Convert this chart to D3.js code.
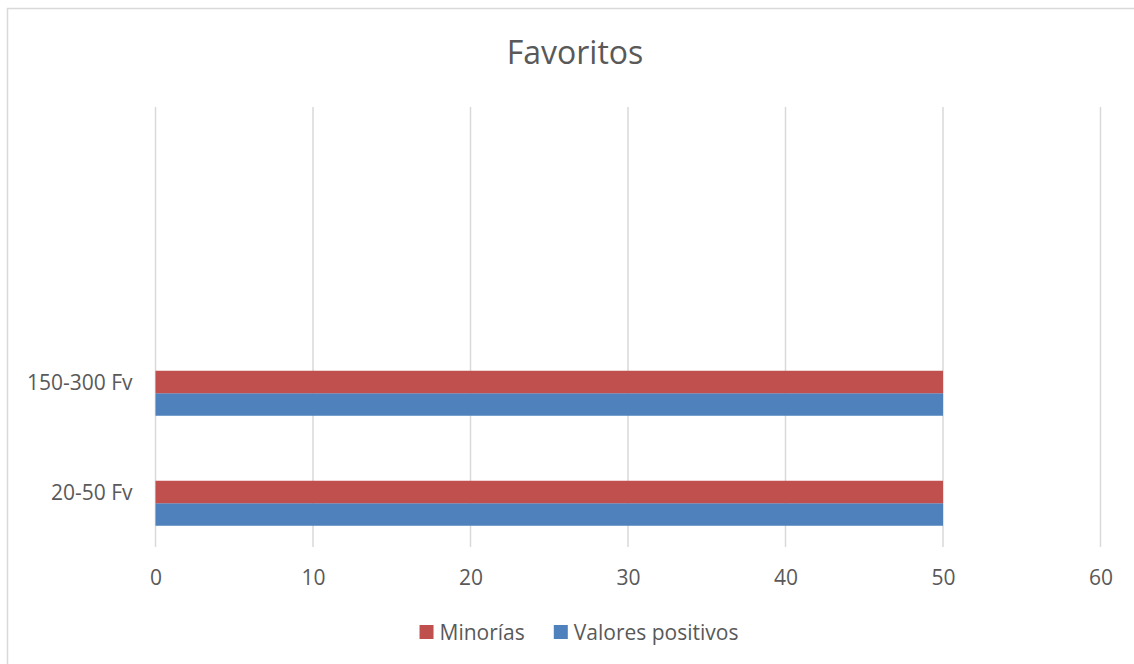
<!DOCTYPE html>
<html>
<head>
<meta charset="utf-8">
<script src="https://cdn.jsdelivr.net/npm/d3@7"></script>
<style>
  body { margin: 0; background: #fff; }
  svg text { font-family: "Open Sans", "Noto Sans", sans-serif; fill: #595959; }
</style>
</head>
<body>
<div id="chart"></div>
<script>
// ── DATA ─────────────────────────────────────────────────────────────────────
// Category axis has four slots; only the two lower ones carry data
const categories = ['20-50 Fv', '150-300 Fv', '', ''];
const seriesNames = ['Valores positivos', 'Minorías'];
const valoresPositivos = [50, 50];
const minorias = [50, 50];
const xTicks = [0, 10, 20, 30, 40, 50, 60];
const colors = { 'Minorías': '#C0504D', 'Valores positivos': '#4F81BD' };

// ── DIMENSIONS ───────────────────────────────────────────────────────────────
const W = 1134, H = 664;
const margin = { top: 107, right: 33.5, bottom: 117, left: 155.5 };
const width  = W - margin.left - margin.right;
const height = H - margin.top - margin.bottom;

const svg = d3.select('#chart').append('svg')
  .attr('width', W).attr('height', H);

// chart border
svg.append('rect')
  .attr('x', 7.5).attr('y', 8.5)
  .attr('width', W + 20).attr('height', H + 20)
  .attr('fill', '#fff').attr('stroke', '#d9d9d9').attr('stroke-width', 1.5);

svg.append('text')
  .attr('x', 575).attr('y', 64)
  .attr('text-anchor', 'middle')
  .style('font-size', '32px')
  .text('Favoritos');

const g = svg.append('g').attr('transform', `translate(${margin.left},${margin.top})`);

// ── SCALES ───────────────────────────────────────────────────────────────────
const x = d3.scaleLinear().domain([0, 60]).range([0, width]);
const y = d3.scaleBand().domain(d3.range(categories.length)).range([height, 0]);
// three series slots per category (third one empty), bottom-up
const ySub = d3.scaleBand()
  .domain([...seriesNames, 'empty'])
  .range([y.bandwidth(), 0])
  .paddingOuter(0.944);

// ── GRID ─────────────────────────────────────────────────────────────────────
g.selectAll('.grid')
  .data(xTicks)
  .join('line')
    .attr('x1', d => x(d)).attr('x2', d => x(d))
    .attr('y1', 0).attr('y2', height)
    .attr('stroke', '#d9d9d9').attr('stroke-width', 1.5);

// ── BARS ─────────────────────────────────────────────────────────────────────
const rows = [];
categories.forEach((c, i) => {
  if (i < valoresPositivos.length) {
    rows.push({ i, s: 'Valores positivos', v: valoresPositivos[i] });
    rows.push({ i, s: 'Minorías', v: minorias[i] });
  }
});

g.selectAll('.bar')
  .data(rows)
  .join('rect')
    .attr('x', x(0))
    .attr('y', d => y(d.i) + ySub(d.s))
    .attr('width', d => x(d.v) - x(0))
    .attr('height', ySub.bandwidth())
    .attr('fill', d => colors[d.s]);

// ── AXES ─────────────────────────────────────────────────────────────────────
const xAxis = g.append('g')
  .attr('transform', `translate(0,${height})`)
  .call(d3.axisBottom(x).tickValues(xTicks).tickSize(0));
xAxis.select('.domain').remove();
xAxis.selectAll('text')
  .attr('y', 38).attr('dy', 0)
  .style('font-size', '21px').attr('fill', '#595959');

const yAxis = g.append('g')
  .call(d3.axisLeft(y).tickFormat(i => categories[i]).tickSize(0).tickPadding(23));
yAxis.select('.domain').remove();
yAxis.selectAll('text')
  .attr('dy', '0.36em')
  .style('font-size', '21px').attr('fill', '#595959');

// ── LEGEND ───────────────────────────────────────────────────────────────────
const legendItems = ['Minorías', 'Valores positivos'];
const legend = svg.append('g');
let lx = 0;
legendItems.forEach((name, k) => {
  const item = legend.append('g').attr('transform', `translate(${lx},0)`);
  item.append('rect')
    .attr('x', 0).attr('y', -7).attr('width', 14).attr('height', 14)
    .attr('fill', colors[name]);
  const t = item.append('text')
    .attr('x', 20).attr('dy', '0.36em')
    .style('font-size', '21px')
    .text(name);
  lx += 20 + t.node().getComputedTextLength() + 29;
});
const legendW = lx - 29;
legend.attr('transform', `translate(${579 - legendW / 2},632)`);
</script>
</body>
</html>
